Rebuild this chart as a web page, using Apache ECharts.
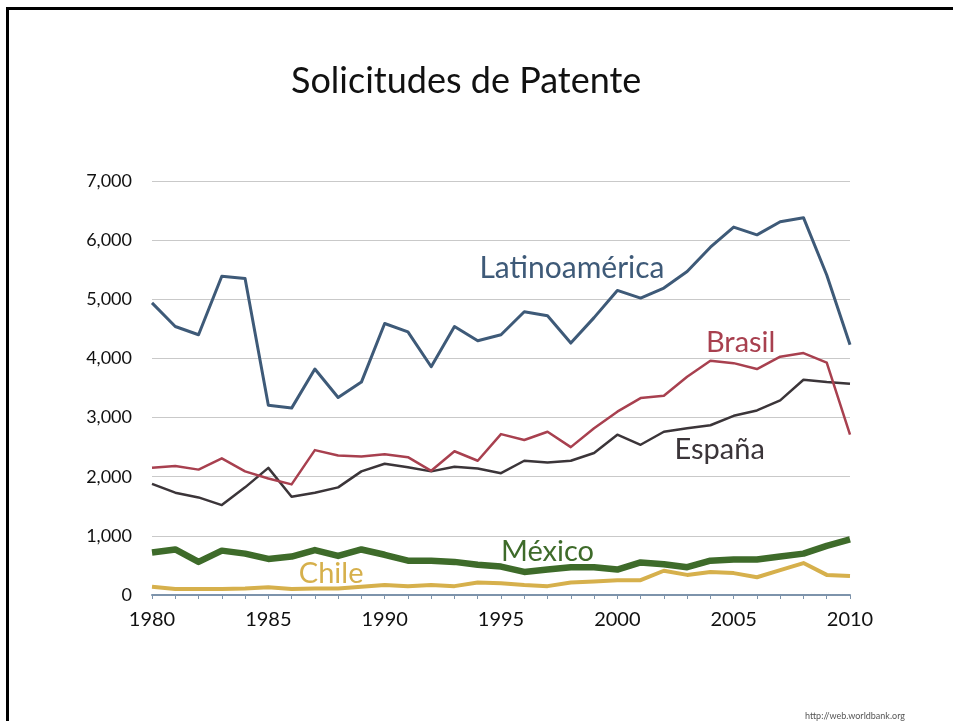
<!DOCTYPE html>
<html>
<head>
<meta charset="utf-8">
<title>Solicitudes de Patente</title>
<script src="https://cdn.jsdelivr.net/npm/echarts@6/dist/echarts.min.js"></script>
<style>
  html, body { margin: 0; padding: 0; background: #fff; }
  #frame {
    position: absolute; left: 6px; top: 7px; width: 947px; height: 714px;
    border-top: 3px solid #000; border-left: 3px solid #000; box-sizing: border-box;
  }
  #chart { position: absolute; left: 0; top: 0; width: 953px; height: 721px; }
</style>
</head>
<body>
<div id="frame"></div>
<div id="chart"></div>
<script>
// años 1980 - 2010
const years = [1980, 1981, 1982, 1983, 1984, 1985, 1986, 1987, 1988, 1989,
  1990, 1991, 1992, 1993, 1994, 1995, 1996, 1997, 1998, 1999,
  2000, 2001, 2002, 2003, 2004, 2005, 2006, 2007, 2008, 2009, 2010];

const latinoamerica = [4940, 4540, 4400, 5390, 5350, 3210, 3160, 3820, 3340, 3600,
  4590, 4450, 3860, 4540, 4300, 4400, 4790, 4720, 4260, 4690,
  5150, 5020, 5190, 5470, 5880, 6220, 6090, 6310, 6380, 5410, 4230];

const brasil = [2150, 2180, 2120, 2310, 2090, 1970, 1870, 2450, 2360, 2340,
  2380, 2330, 2100, 2430, 2270, 2720, 2620, 2760, 2500, 2820,
  3100, 3330, 3370, 3690, 3960, 3920, 3820, 4030, 4090, 3930, 2710];

const espana = [1880, 1730, 1650, 1520, 1820, 2150, 1660, 1730, 1820, 2090,
  2220, 2160, 2090, 2170, 2140, 2060, 2270, 2240, 2270, 2400,
  2710, 2540, 2760, 2820, 2870, 3030, 3120, 3290, 3640, 3600, 3570];

const mexico = [720, 770, 560, 750, 700, 610, 650, 760, 660, 770,
  680, 580, 580, 560, 510, 480, 390, 430, 470, 470,
  430, 550, 520, 470, 580, 600, 600, 650, 700, 830, 940];

const chile = [140, 100, 100, 100, 110, 130, 100, 110, 110, 140,
  170, 150, 170, 150, 210, 200, 170, 150, 210, 230,
  250, 250, 410, 340, 390, 370, 300, 420, 540, 340, 320];

// posición de las etiquetas (en coordenadas de datos)
const labelNames = ['Latinoamérica', 'Brasil', 'España', 'México', 'Chile'];
const labelAt = [[1998.05, 5530], [2005.3, 4260], [2004.4, 2450], [1997.0, 740], [1987.7, 360]];
const colors = ['#3e5a78', '#a8404f', '#3b3539', '#3e6b2a', '#d6b04c'];
const widths = [3, 2.5, 2.5, 6.5, 4];
const labelSizes = [30, 29, 29, 29, 29];
const seriesData = [latinoamerica, brasil, espana, mexico, chile];

const FONT = 'Lato, "Open Sans", sans-serif';

const chart = echarts.init(document.getElementById('chart'));

const series = seriesData.map((vals, i) => ({
  name: labelNames[i],
  type: 'line',
  data: years.map((y, k) => [y, vals[k]]),
  symbol: 'none',
  z: 10 - i,
  lineStyle: { color: colors[i], width: widths[i], join: 'round' },
  markPoint: {
    symbol: 'circle',
    symbolSize: 0,
    silent: true,
    data: [{ coord: labelAt[i] }],
    label: {
      show: true,
      formatter: labelNames[i],
      color: colors[i],
      fontFamily: FONT,
      fontSize: labelSizes[i],
      position: 'inside'
    }
  }
}));

chart.setOption({
  backgroundColor: 'transparent',
  animation: false,
  title: {
    text: 'Solicitudes de Patente',
    left: 286,
    top: 58,
    textStyle: { fontFamily: FONT, fontSize: 36, fontWeight: 'normal', color: '#111' }
  },
  graphic: [{
    type: 'text',
    right: 48,
    bottom: 0,
    style: { text: 'http://web.worldbank.org', fontFamily: FONT, fontSize: 9, fill: '#555' }
  }],
  grid: { left: 152, right: 103, top: 181, bottom: 126 },
  xAxis: {
    type: 'value',
    min: 1980,
    max: 2010,
    interval: 5,
    axisLine: { show: true, onZero: false, lineStyle: { color: '#7d93ab', width: 2 } },
    axisTick: { show: true, length: 4, lineStyle: { color: '#7d93ab' } },
    minorTick: { show: true, splitNumber: 5, length: 4, lineStyle: { color: '#7d93ab' } },
    splitLine: { show: false },
    axisLabel: {
      margin: 15,
      fontFamily: FONT,
      fontSize: 20,
      color: '#111',
      formatter: v => String(v)
    }
  },
  yAxis: {
    type: 'value',
    min: 0,
    max: 7000,
    interval: 1000,
    axisLine: { show: false },
    axisTick: { show: false },
    splitLine: { show: true, lineStyle: { color: '#c9c9c9', width: 1 } },
    axisLabel: {
      margin: 20,
      fontFamily: FONT,
      fontSize: 18,
      color: '#111',
      formatter: v => v.toLocaleString('en-US')
    }
  },
  series: series
});
</script>
</body>
</html>
